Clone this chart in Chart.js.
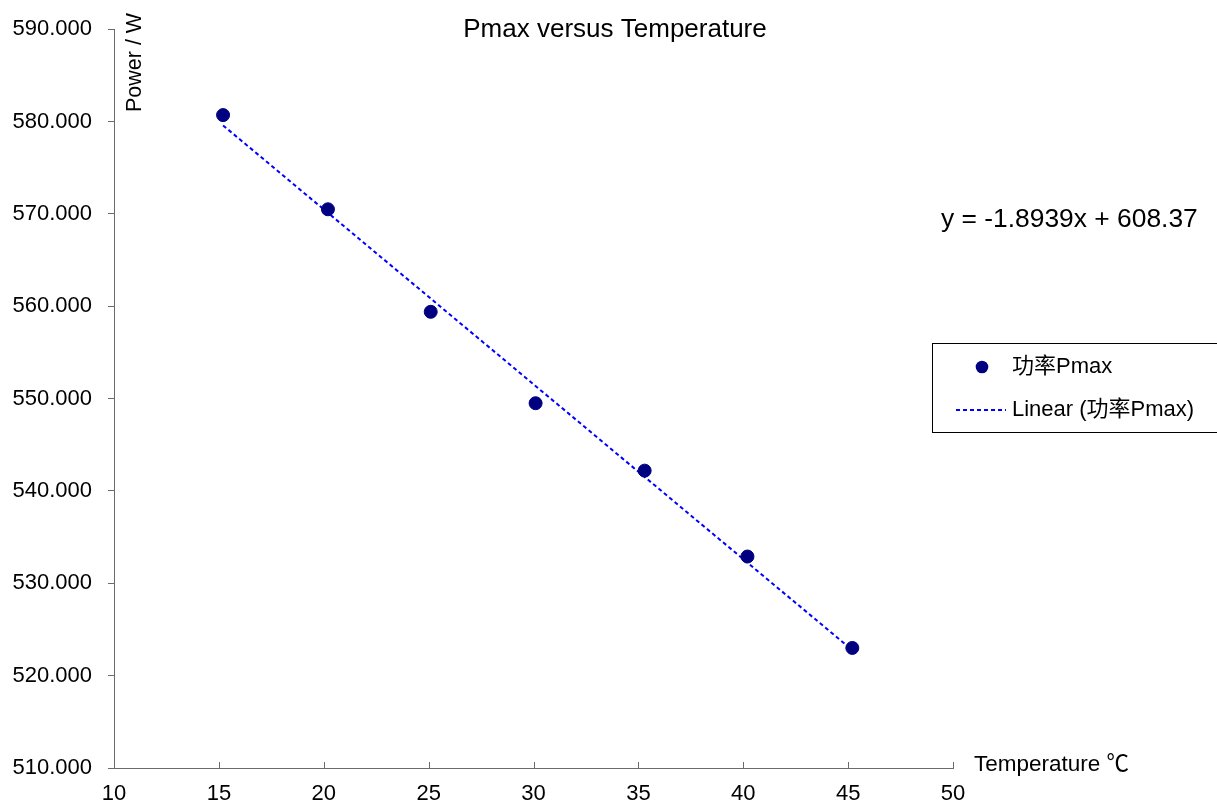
<!DOCTYPE html>
<html><head><meta charset="utf-8">
<script src="https://cdn.jsdelivr.net/npm/chart.js@4/dist/chart.umd.min.js"></script>
<style>html,body{margin:0;padding:0;background:#fff}#wrap{width:1217px;height:807px;position:relative}</style>
</head><body><div id="wrap"><canvas id="c" width="1217" height="807"></canvas></div>
<script>
const temperatures = [15.2, 20.2, 25.1, 30.1, 35.3, 40.2, 45.2];
const powers = [580.7, 570.5, 559.4, 549.5, 542.2, 532.9, 523.0];
const xTickValues = [10, 15, 20, 25, 30, 35, 40, 45, 50];
const yTickValues = [510, 520, 530, 540, 550, 560, 570, 580, 590];
const trendSlope = -1.8939;
const trendIntercept = 608.37;
const seriesLabel = '功率Pmax';
const trendLabel = 'Linear (功率Pmax)';
const titleText = 'Pmax versus Temperature';
const yTitle = 'Power / W';
const xTitle = 'Temperature ℃';
const equationText = 'y = -1.8939x + 608.37';

const FONT = '"Liberation Sans", Arial, "Noto Sans CJK SC", sans-serif';
const AXIS_COLOR = '#6b6b6b';

const scatterData = temperatures.map((t, i) => ({x: t, y: powers[i]}));
const tMin = Math.min(...temperatures), tMax = Math.max(...temperatures);
const trendData = [tMin, tMax].map(t => ({x: t, y: trendSlope * t + trendIntercept}));

const decor = {
  id: 'decor',
  afterDraw(chart) {
    const ctx = chart.ctx;
    const xs = chart.scales.x, ca = chart.chartArea;
    ctx.save();
    ctx.strokeStyle = AXIS_COLOR; ctx.lineWidth = 1;
    xs.ticks.forEach(t => {
      const px = Math.round(xs.getPixelForValue(t.value)) + 0.5;
      ctx.beginPath(); ctx.moveTo(px, ca.bottom); ctx.lineTo(px, ca.bottom - 6); ctx.stroke();
    });
    ctx.fillStyle = '#000';
    ctx.font = '26px ' + FONT; ctx.textAlign = 'center'; ctx.textBaseline = 'alphabetic';
    ctx.fillText(titleText, 615, 37);
    ctx.font = '22.5px ' + FONT; ctx.textAlign = 'left';
    ctx.fillText(xTitle, 974, 771);
    ctx.save(); ctx.translate(141, 112); ctx.rotate(-Math.PI / 2);
    ctx.font = '21.5px ' + FONT; ctx.textAlign = 'left';
    ctx.fillText(yTitle, 0, 0); ctx.restore();
    ctx.font = '26.4px ' + FONT; ctx.textAlign = 'left';
    ctx.fillText(equationText, 941, 227);
    const ds = chart.data.datasets;
    ctx.strokeStyle = '#000'; ctx.lineWidth = 1;
    ctx.strokeRect(932.5, 343.5, 300, 89);
    ctx.fillStyle = ds[0].backgroundColor;
    ctx.beginPath(); ctx.arc(982, 367, 6.3, 0, Math.PI * 2); ctx.fill();
    ctx.strokeStyle = ds[1].borderColor; ctx.lineWidth = ds[1].borderWidth; ctx.setLineDash(ds[1].borderDash);
    ctx.beginPath(); ctx.moveTo(956, 410); ctx.lineTo(1006, 410); ctx.stroke();
    ctx.setLineDash([]);
    ctx.fillStyle = '#000'; ctx.font = '22px ' + FONT; ctx.textBaseline = 'middle';
    ctx.fillText(ds[0].label, 1012, 367);
    ctx.fillText(ds[1].label, 1012, 410);
    ctx.restore();
  }
};

new Chart(document.getElementById('c'), {
  type: 'scatter',
  data: {
    datasets: [
      {label: seriesLabel, data: scatterData, backgroundColor: '#000080', borderColor: '#000080',
       pointRadius: 6.5, pointHoverRadius: 6.5, showLine: false, order: 1},
      {label: trendLabel, data: trendData, type: 'line', borderColor: '#0000ff', borderWidth: 2,
       borderDash: [4, 3], pointRadius: 0, fill: false, showLine: true, order: 2}
    ]
  },
  options: {
    responsive: false, animation: false, devicePixelRatio: 1,
    layout: {padding: {top: 25, right: 264, left: 0, bottom: 0}},
    plugins: {legend: {display: false}, title: {display: false}, tooltip: {enabled: false}},
    scales: {
      x: {
        type: 'linear', min: 10, max: 50,
        afterBuildTicks(s) { s.ticks = xTickValues.map(v => ({value: v})); },
        ticks: {font: {family: FONT, size: 22}, color: '#000', padding: 13, maxRotation: 0, autoSkip: false},
        grid: {display: true, drawOnChartArea: false, drawTicks: false},
        border: {display: true, color: AXIS_COLOR, width: 1},
        afterFit(s) { s.height = 39; }
      },
      y: {
        type: 'linear', min: 510, max: 590,
        afterBuildTicks(s) { s.ticks = yTickValues.map(v => ({value: v})); },
        ticks: {font: {family: FONT, size: 22}, color: '#000', padding: 16, autoSkip: false,
                callback: v => Number(v).toFixed(3)},
        grid: {display: true, drawOnChartArea: false, drawTicks: true, tickLength: 6, color: AXIS_COLOR},
        border: {display: true, color: AXIS_COLOR, width: 1},
        afterFit(s) { s.width = 114; }
      }
    }
  },
  plugins: [decor]
});
</script>
</body></html>
